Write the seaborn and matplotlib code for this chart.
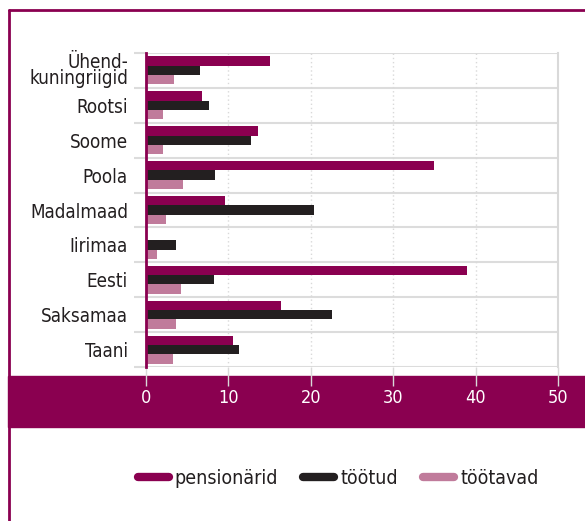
import matplotlib
matplotlib.use("Agg")
import matplotlib.pyplot as plt
import seaborn as sns
import pandas as pd
from matplotlib.lines import Line2D
from matplotlib.patches import Rectangle

categories = ["Ühend-\nkuningriigid", "Rootsi", "Soome", "Poola", "Madalmaad",
              "Iirimaa", "Eesti", "Saksamaa", "Taani"]
series = ["pensionärid", "töötud", "töötavad"]
pensionarid = [15.1, 6.8, 13.6, 34.9, 9.6, 0.0, 39.0, 16.4, 10.6]
tootud = [6.6, 7.7, 12.7, 8.4, 20.4, 3.6, 8.2, 22.6, 11.3]
tootavad = [3.4, 2.1, 2.1, 4.5, 2.4, 1.3, 4.3, 3.6, 3.3]
xticks = [0, 10, 20, 30, 40, 50]

colors = ["#8a0050", "#231f20", "#c07b9b"]
MAROON = "#8a0050"
DARK = "#231f20"

rows = []
for s, vals in zip(series, [pensionarid, tootud, tootavad]):
    for c, v in zip(categories, vals):
        rows.append({"maa": c, "seeria": s, "väärtus": v})
df = pd.DataFrame(rows)

sns.set_theme(style="white")
plt.rcParams["font.family"] = ["DejaVu Sans"]
plt.rcParams["font.stretch"] = "condensed"

fig = plt.figure(figsize=(5.85, 5.21), dpi=100)
ax = fig.add_axes([146 / 585, 1 - 367 / 521, (558 - 146) / 585, (367 - 53) / 521])

# band behind x tick labels
fig.patches.append(Rectangle((8 / 585, 1 - 427 / 521), 1, 51 / 521,
                             transform=fig.transFigure, color=MAROON, zorder=-5))
# frame
fig.add_artist(Line2D([8.5 / 585, 8.5 / 585], [0, 1 - 10 / 521], transform=fig.transFigure,
                      color=MAROON, lw=2))
fig.add_artist(Line2D([8.5 / 585, 1], [1 - 10 / 521, 1 - 10 / 521], transform=fig.transFigure,
                      color=MAROON, lw=2))

sns.barplot(data=df, y="maa", x="väärtus", hue="seeria", order=categories,
            hue_order=series, palette=colors, orient="h", width=0.8,
            saturation=1, ax=ax, legend=False, edgecolor="none", zorder=3)

ax.set_xlim(0, 50)
ax.set_ylim(len(categories) - 0.5, -0.5)
ax.set_xlabel("")
ax.set_ylabel("")
ax.set_xticks(xticks)
ax.set_xticklabels([str(t) for t in xticks], color="white", fontsize=13)
ax.tick_params(axis="x", length=14, width=1, color="#d9d9d9", pad=2, bottom=True)

# category labels
ax.set_yticks(range(len(categories)))
ax.set_yticklabels(categories, fontsize=13.5, color=DARK, linespacing=0.8)
ax.tick_params(axis="y", which="major", length=0, pad=13)
ax.set_yticks([i - 0.5 for i in range(len(categories) + 1)], minor=True)
ax.tick_params(axis="y", which="minor", length=9, width=1.5, color="#dcdcdc", left=True)
ax.grid(axis="y", which="minor", color="#dcdcdc", lw=1.5, zorder=1)
ax.grid(axis="y", which="major", visible=False)
for t in [10, 20, 30, 40]:
    ax.axvline(t, color="#d9d9d9", lw=1, ls=(0, (1, 2)), zorder=1)

for s in ["top", "bottom"]:
    ax.spines[s].set_visible(False)
ax.spines["right"].set_color("#d9d9d9")
ax.spines["right"].set_linewidth(1.5)
ax.spines["left"].set_color(MAROON)
ax.spines["left"].set_linewidth(2)
ax.spines["left"].set_zorder(5)

handles = [Line2D([0], [0], color=c, lw=6, solid_capstyle="round") for c in colors]
fig.legend(handles, series, loc="center", bbox_to_anchor=(338 / 585, 1 - 478 / 521),
           ncol=3, frameon=False, fontsize=14, handlelength=1.6, handletextpad=0.3,
           columnspacing=1.3, labelcolor=DARK)

fig.savefig("out.png", dpi=100)
